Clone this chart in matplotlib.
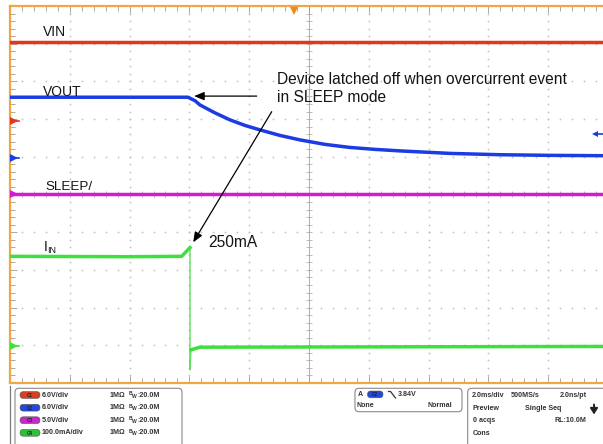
import matplotlib
matplotlib.use("Agg")
import matplotlib.pyplot as plt
from matplotlib.patches import FancyBboxPatch
from matplotlib.lines import Line2D
import numpy as np

# ---------------- data (read from the scope capture) ----------------
# time in ms relative to the trigger point, 2.0 ms/div, 10 divisions
time_limits = [-10.0, 10.0]

vin_time = [-10.0, 10.0]
vin_volts = [12.5, 12.5]

vout_time = [-10.0, -4.05, -3.81, -3.65, -3.14, -2.64, -2.14, -1.64, -0.97,
             -0.30, 0.54, 1.37, 2.21, 3.04, 4.72, 6.39, 8.06, 10.0]
vout_volts = [9.66, 9.66, 9.10, 8.44, 7.16, 6.05, 5.17, 4.46, 3.58,
              2.87, 2.15, 1.67, 1.36, 1.12, 0.72, 0.51, 0.41, 0.35]

sleep_time = [-10.0, 10.0]
sleep_volts = [0.0, 0.0]

iin_time_before = [-10.0, -6.0, -4.26, -3.98]
iin_ma_before = [237, 236, 237, 260]
iin_time_drop = [-3.98, -3.98, -3.95]
iin_ma_drop = [260, -64, -11]
iin_time_after = [-3.95, -3.65, 10.0]
iin_ma_after = [-11, -4, -2]

# channel settings: name, scale per div, ground position (div from bottom)
channel_names = ["C1", "C2", "C3", "C4"]
channel_scales = [6.0, 6.0, 5.0, 100.0]
channel_ground_div = [6.95, 5.97, 5.0, 0.99]
channel_scale_text = ["6.0V/div", "6.0V/div", "5.0V/div", "100.0mA/div"]
channel_colors = ["#e4361c", "#1a3ce2", "#d21cd2", "#3ee03e"]
badge_colors = ["#d8401f", "#2448d8", "#c42ac4", "#2fbf3a"]

trigger_level_v = 3.84
trigger_time_ms = -0.50

label_names = ["VIN", "VOUT", "SLEEP/"]
annotation_text = "Device latched off when overcurrent event\nin SLEEP mode"
peak_text = "250mA"

# ---------------- figure ----------------
W, H = 603, 444
FONT = "Liberation Sans"
plt.rcParams["font.family"] = [FONT, "DejaVu Sans"]

fig = plt.figure(figsize=(W / 100, H / 100), dpi=100)
fig.patch.set_facecolor("white")

ax = fig.add_axes([10 / W, 61 / H, 598 / W, 377 / H])
ax.set_xlim(*time_limits)
ax.set_ylim(0, 10)
ax.set_facecolor("white")

orange = "#f2a641"
for s in ["top", "bottom", "left"]:
    ax.spines[s].set_color(orange)
    ax.spines[s].set_linewidth(1.6)
ax.spines["right"].set_visible(False)

ax.set_xticks(np.arange(-10, 10.01, 2))
ax.set_xticks(np.arange(-10, 10.01, 0.4), minor=True)
ax.set_yticks(np.arange(0, 10.01, 1))
ax.set_yticks(np.arange(0, 10.01, 0.2), minor=True)
ax.tick_params(which="both", direction="in", top=True, bottom=True,
               left=True, right=False, labelbottom=False, labelleft=False,
               color="#a09a90", width=0.6)
ax.tick_params(which="major", length=5)
ax.tick_params(which="minor", length=3.5)

# dotted graticule
dot_c = "#c4c4c4"
for xv in np.arange(-8, 9, 2):
    if xv == 0:
        continue
    ys = np.arange(0.2, 10, 0.2)
    ax.plot(np.full_like(ys, xv), ys, ls="none", marker="o", ms=1.3,
            mew=0, color=dot_c, zorder=1)
for yv in np.arange(1, 10, 1):
    if yv == 5:
        continue
    xs = np.arange(-9.6, 10, 0.4)
    ax.plot(xs, np.full_like(xs, yv), ls="none", marker="o", ms=1.3,
            mew=0, color=dot_c, zorder=1)

# center cross with ticks
ax.axvline(0, color="#b5aea5", lw=0.7, zorder=1)
ax.axhline(5, color="#b5aea5", lw=0.7, zorder=1)
yt = np.arange(0.2, 10, 0.2)
ax.plot(np.zeros_like(yt), yt, ls="none", marker="_", ms=5, mew=0.6,
        color="#b5aea5", zorder=1)
xt = np.arange(-9.6, 10, 0.4)
ax.plot(xt, np.full_like(xt, 5.0), ls="none", marker="|", ms=5, mew=0.6,
        color="#b5aea5", zorder=1)


def to_div(values, ch):
    return [channel_ground_div[ch] + v / channel_scales[ch] for v in values]


lw = 2.5
ax.plot(vin_time, to_div(vin_volts, 0), color=channel_colors[0], lw=lw, zorder=5)
vout_div = to_div(vout_volts, 1)
ax.plot(vout_time, vout_div, color=channel_colors[1], lw=lw, zorder=5,
        solid_joinstyle="round")
ax.plot(sleep_time, to_div(sleep_volts, 2), color=channel_colors[2], lw=lw, zorder=5)
iin_before_div = to_div(iin_ma_before, 3)
ax.plot(iin_time_before, iin_before_div, color=channel_colors[3], lw=lw, zorder=5)
ax.plot(iin_time_drop, to_div(iin_ma_drop, 3), color="#5fe05f", lw=1.0, zorder=4)
ax.plot(iin_time_after, to_div(iin_ma_after, 3), color=channel_colors[3], lw=lw, zorder=5)

# channel ground markers on the left edge
for ch in range(4):
    g = channel_ground_div[ch]
    ax.plot([-9.85], [g], marker=">", ms=5.5, mew=0, color=channel_colors[ch],
            clip_on=False, zorder=6)
    ax.plot([-9.95, -9.7], [g, g], color=channel_colors[ch], lw=1.2,
            clip_on=False, zorder=6)

# trigger level marker (right) and trigger position marker (top)
trig_div = channel_ground_div[1] + trigger_level_v / channel_scales[1]
ax.plot([9.58], [trig_div], marker="<", ms=5, mew=0, color=channel_colors[1],
        clip_on=False, zorder=6)
ax.plot([9.6, 10.0], [trig_div, trig_div], color=channel_colors[1], lw=1.2,
        clip_on=False, zorder=6)
ax.plot([trigger_time_ms], [9.88], marker="v", ms=6, mew=0, color="#f08a1a",
        clip_on=False, zorder=6)

# ---------------- overlay in pixel coordinates ----------------
ov = fig.add_axes([0, 0, 1, 1])
ov.set_xlim(0, W)
ov.set_ylim(H, 0)
ov.axis("off")
ov.patch.set_visible(False)

tc = "#141414"
ov.text(42.5, 36.3, label_names[0], fontsize=10, color=tc, va="baseline")
ov.text(42.5, 95.5, label_names[1], fontsize=10, color=tc, va="baseline")
ov.text(45.0, 190.0, label_names[2], fontsize=9.6, color=tc, va="baseline")
ov.text(44.0, 250.5, "I", fontsize=10, color=tc, va="baseline")
ov.text(47.3, 253.0, "IN", fontsize=6.5, color=tc, va="baseline")

ov.text(277, 101.5, annotation_text, fontsize=11.2, color=tc, va="baseline",
        linespacing=1.2)
ov.text(208, 246.7, peak_text, fontsize=11.2, color=tc, va="baseline")

arrow_kw = dict(arrowstyle="-|>,head_length=0.6,head_width=0.25", lw=0.9,
                color="black", mutation_scale=10, shrinkA=0)
# horizontal arrow pointing at the VOUT knee
ax.annotate("", xy=(vout_time[1], vout_div[1] + 0.03),
            xytext=(-1.75, vout_div[1] + 0.03),
            arrowprops=dict(arrow_kw, shrinkB=4.5), zorder=7)
# diagonal arrow pointing at the IIN peak
ax.annotate("", xy=(iin_time_before[-1], iin_before_div[-1]),
            xytext=(271.7, 111.7), textcoords=ov.transData,
            arrowprops=dict(arrow_kw, shrinkB=4.5), zorder=7)

# ---------------- bottom status panel ----------------
ov.add_line(Line2D([10, 10], [386, H], color="#7a7a7a", lw=0.9))

box_kw = dict(boxstyle="round,pad=0,rounding_size=4", fc="white",
              ec="#8a8a8a", lw=0.8)
ov.add_patch(FancyBboxPatch((15, 388.3), 167, 70, **box_kw))
ov.add_patch(FancyBboxPatch((355, 388.3), 107, 23.4, **box_kw))
ov.add_patch(FancyBboxPatch((467.7, 388.3), 160, 70, **box_kw))

pc = "#333333"
ps = 5.1
row_y = [395.0, 407.7, 420.2, 432.8]
for i in range(4):
    y = row_y[i]
    ov.add_patch(FancyBboxPatch((20, y - 3.4), 20, 6.8,
                                boxstyle="round,pad=0,rounding_size=3.4",
                                fc=badge_colors[i], ec="#555555", lw=0.4))
    ov.text(30, y + 0.3, channel_names[i], fontsize=3.3, color="#222222",
            ha="center", va="center", fontweight="bold")
    ov.text(41.7, y, channel_scale_text[i], fontsize=ps, color=pc,
            va="center", fontweight="bold")
    ov.text(110, y, "1MΩ", fontsize=ps, color=pc, va="center", fontweight="bold")
    ov.text(128.3, y - 1.3, "B", fontsize=3.6, color=pc, va="center", fontweight="bold")
    ov.text(131.5, y + 1.0, "W", fontsize=3.6, color=pc, va="center", fontweight="bold")
    ov.text(137.5, y, ":20.0M", fontsize=ps, color=pc, va="center", fontweight="bold")

# trigger box
ov.text(358.3, 394.5, "A", fontsize=ps, color=pc, va="center", fontweight="bold")
ov.add_patch(FancyBboxPatch((367.5, 391.0), 15.5, 6.8,
                            boxstyle="round,pad=0,rounding_size=3.4",
                            fc=badge_colors[1], ec="#555555", lw=0.4))
ov.text(375.2, 394.7, "C2", fontsize=3.3, color="#222222", ha="center",
        va="center", fontweight="bold")
ov.add_line(Line2D([388.5, 390.5, 395.5], [391.5, 391.5, 398.0], color=pc, lw=0.9))
ov.text(397.5, 394.5, f"{trigger_level_v:.2f}V", fontsize=ps, color=pc,
        va="center", fontweight="bold")
ov.text(356.7, 405.5, "None", fontsize=ps, color=pc, va="center", fontweight="bold")
ov.text(452.0, 405.5, "Normal", fontsize=ps, color=pc, va="center",
        ha="right", fontweight="bold")

# acquisition box
ov.text(471.7, 395.5, "2.0ms/div", fontsize=ps, color=pc, va="center", fontweight="bold")
ov.text(510.5, 395.5, "500MS/s", fontsize=ps, color=pc, va="center", fontweight="bold")
ov.text(586.7, 395.5, "2.0ns/pt", fontsize=ps, color=pc, va="center", ha="right",
        fontweight="bold")
ov.text(472.7, 408.3, "Preview", fontsize=ps, color=pc, va="center", fontweight="bold")
ov.text(525.0, 408.3, "Single Seq", fontsize=ps, color=pc, va="center", fontweight="bold")
ov.annotate("", xy=(594, 414.5), xytext=(594, 404.5),
            arrowprops=dict(arrowstyle="-|>,head_length=0.35,head_width=0.22",
                            lw=1.4, color="#222222", mutation_scale=10,
                            shrinkA=0, shrinkB=0))
ov.text(472.7, 420.7, "0 acqs", fontsize=ps, color=pc, va="center", fontweight="bold")
ov.text(586.5, 420.7, "RL:10.0M", fontsize=ps, color=pc, va="center", ha="right",
        fontweight="bold")
ov.text(472.7, 433.3, "Cons", fontsize=ps, color=pc, va="center", fontweight="bold")

fig.savefig("out.png", dpi=100, facecolor="white")
